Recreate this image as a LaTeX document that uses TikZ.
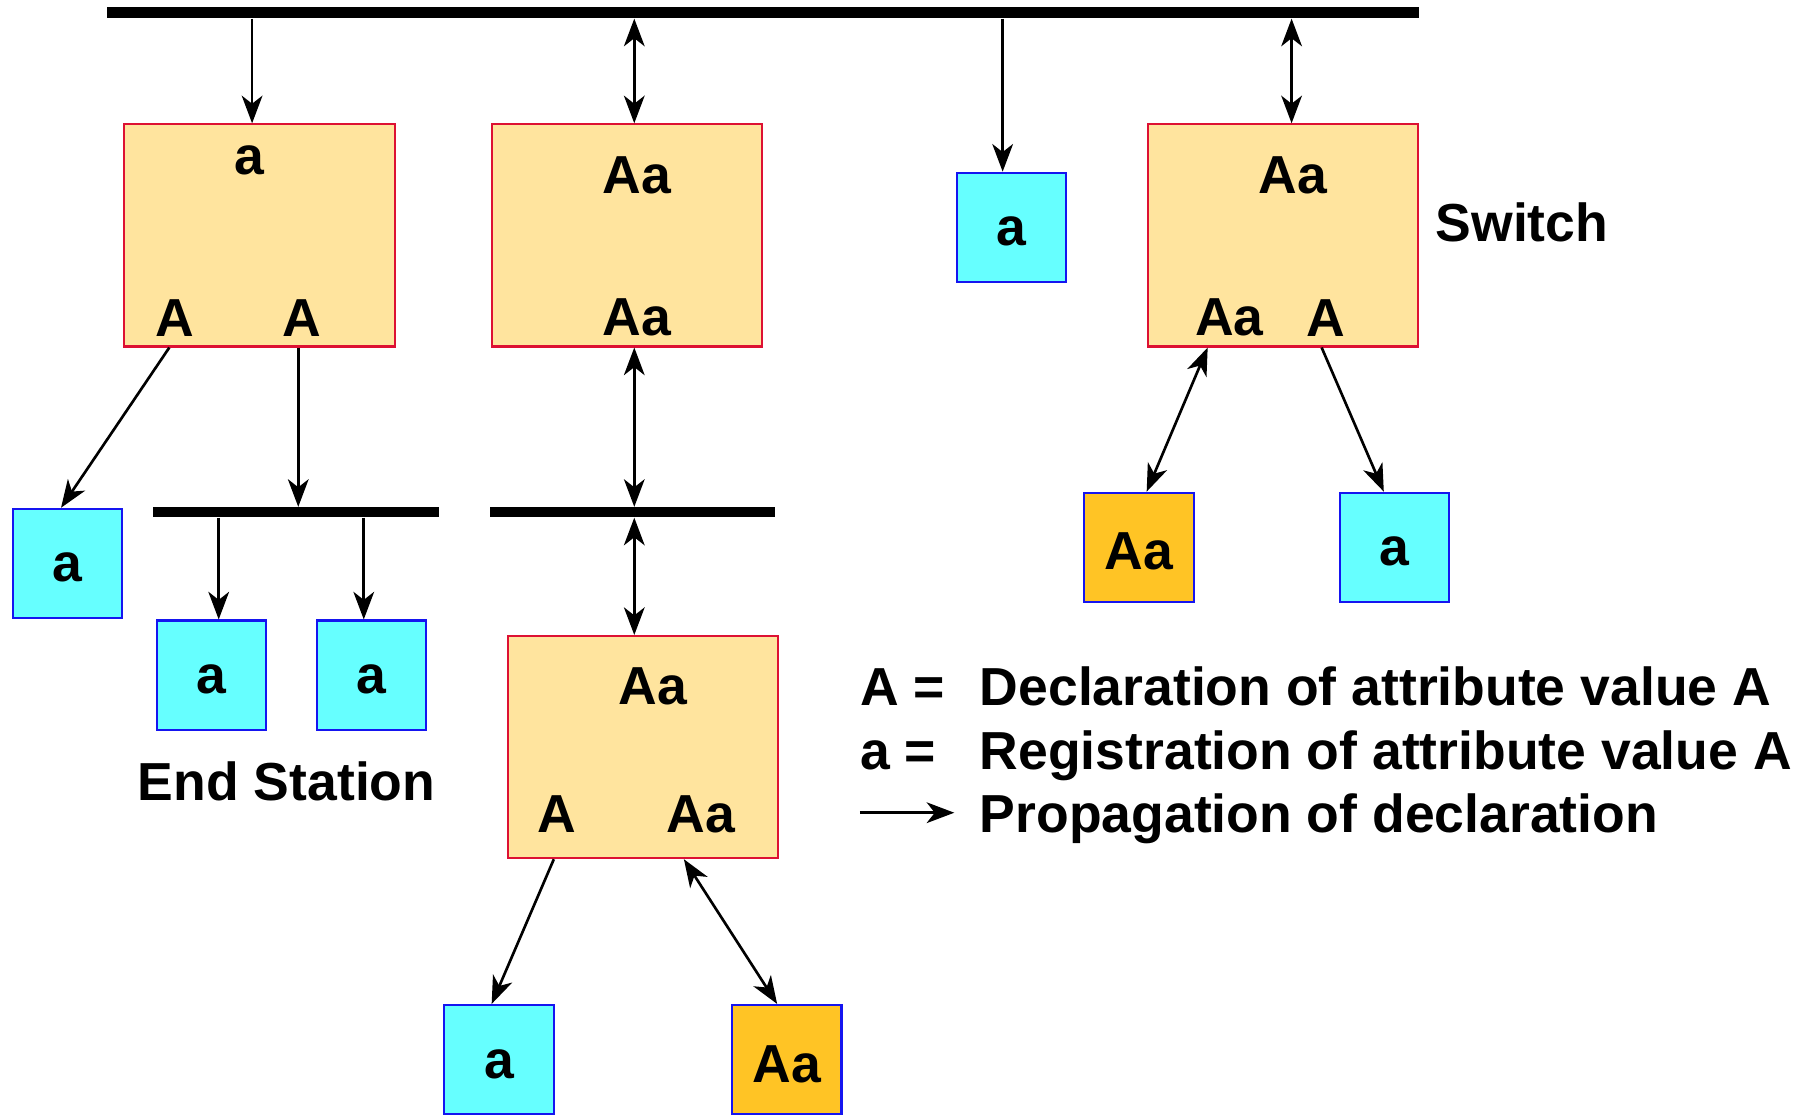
\documentclass[tikz,border=0pt]{standalone}
\usepackage{fontspec}
\setmainfont{Liberation Sans}
\usetikzlibrary{arrows.meta}
\definecolor{swfill}{HTML}{FFE49E}
\definecolor{swline}{HTML}{DD1133}
\definecolor{regfill}{HTML}{66FFFF}
\definecolor{declfill}{HTML}{FFC425}
\definecolor{stline}{HTML}{1515F0}
% station text sits slightly below the box centre
\newcommand{\sttext}[1]{\raisebox{-3.5pt}[\height][0pt]{#1}}
\begin{document}
\begin{tikzpicture}[x=1pt,y=-1pt,
  lbl/.style={font=\fontsize{46.5}{50}\selectfont\bfseries, inner sep=0pt},
  switchbox/.style={draw=swline, fill=swfill, line width=1.8pt,
    minimum width=235pt, minimum height=193pt, inner sep=0pt},
  stationbox/.style={draw=stline, line width=1.8pt, minimum width=95pt,
    minimum height=95pt, inner sep=0pt, lbl},
  regst/.style={stationbox, fill=regfill},
  declst/.style={stationbox, fill=declfill},
  bus/.style={fill=black, inner sep=0pt, minimum height=#1},
  prop/.style={-{Stealth[length=24pt,width=18pt,inset=7pt]}, line width=2.3pt},
  both/.style={{Stealth[length=24pt,width=18pt,inset=7pt]}-{Stealth[length=24pt,width=18pt,inset=7pt]}, line width=2.3pt},
]
\useasboundingbox (0,0) rectangle (1568,969);

% LAN segments
\node[bus=10pt, minimum width=1140pt] (topbus) at (663,11) {};
\node[bus=9pt, minimum width=248pt] (bus2) at (257,445) {};
\node[bus=9pt, minimum width=247pt] (bus3) at (549.5,445) {};

% switches
\node[switchbox] (S1) at (225.5,204.5) {};
\node[switchbox] (S2) at (544.5,204.5) {};
\node[switchbox] (S3) at (1114.5,204.5) {};
\node[switchbox] (S4) at (558.5,649) {};

% port states of the switches
\node[lbl] (S1up) at (217,139) {a};
\node[lbl] (S1l) at (151.5,276) {A};
\node[lbl] (S1r) at (262.5,276) {A};
\node[lbl] (S2up) at (553,152) {Aa};
\node[lbl] (S2dn) at (553,276) {Aa};
\node[lbl] (S3up) at (1123,152) {Aa};
\node[lbl] (S3l) at (1068,276) {Aa};
\node[lbl] (S3r) at (1152,276) {A};
\node[lbl] (S4up) at (567,596) {Aa};
\node[lbl] (S4l) at (484,707) {A};
\node[lbl] (S4r) at (609,707) {Aa};

% end stations
\node[regst] (E1) at (878.5,197.5) {\sttext{a}};
\node[declst] (E2) at (989.5,475.5) {\sttext{Aa}};
\node[regst] (E3) at (1211.5,475.5) {\sttext{a}};
\node[regst] (E4) at (58.5,489.5) {\sttext{a}};
\node[regst] (E5) at (183.5,586.5) {\sttext{a}};
\node[regst] (E6) at (322.5,586.5) {\sttext{a}};
\node[regst] (E7) at (433.5,920.5) {\sttext{a}};
\node[declst] (E8) at (683.5,920.5) {\sttext{Aa}};

\node[lbl, anchor=base west] (swname) at (1247,209.5) {Switch};
\node[lbl, anchor=base] (esname) at (249,695.5) {End Station};

% attachment points
\coordinate (S1in) at ([xshift=-6.5pt]S1.north);
\coordinate (S1outL) at ([xshift=40pt]S1.south west);
\coordinate (S1outR) at ([xshift=152pt]S1.south west);
\coordinate (E4in) at ([xshift=-5.5pt]E4.north);
\coordinate (E5in) at ([xshift=6.5pt]E5.north);
\coordinate (E6in) at ([xshift=-6.5pt]E6.north);
\coordinate (S2in) at ([xshift=6.5pt]S2.north);
\coordinate (S2out) at ([xshift=6.5pt]S2.south);
\coordinate (S4in) at (S4.north -| S2out);
\coordinate (E1in) at ([xshift=-7.5pt]E1.north);
\coordinate (S3in) at ([xshift=7.5pt]S3.north);
\coordinate (S3outL) at ([xshift=53pt]S3.south west);
\coordinate (S3outR) at ([xshift=152pt]S3.south west);
\coordinate (E2in) at ([xshift=55pt]E2.north west);
\coordinate (E3in) at ([xshift=39pt]E3.north west);
\coordinate (S4outL) at ([xshift=41pt]S4.south west);
\coordinate (S4outR) at ([xshift=154pt]S4.south west);
\coordinate (E7in) at ([xshift=42pt]E7.north west);
\coordinate (E8in) at ([xshift=40pt]E8.north west);

% propagation
\draw[prop] (topbus.south -| S1in) -- (S1in);
\draw[prop] (S1outL) -- (E4in);
\draw[prop] (S1outR) -- (bus2.north -| S1outR);
\draw[prop] (bus2.south -| E5in) -- (E5in);
\draw[prop] (bus2.south -| E6in) -- (E6in);
\draw[both] (topbus.south -| S2in) -- (S2in);
\draw[both] (S2out) -- (bus3.north -| S2out);
\draw[both] (bus3.south -| S2out) -- (S4in);
\draw[prop] (S4outL) -- (E7in);
\draw[both] (S4outR) -- (E8in);
\draw[prop] (topbus.south -| E1in) -- (E1in);
\draw[both] (topbus.south -| S3in) -- (S3in);
\draw[both] (S3outL) -- (E2in);
\draw[prop] (S3outR) -- (E3in);

% key
\node[lbl, anchor=base west] (keyA) at (747,612.5) {A =};
\node[lbl, anchor=base west] (keyAtxt) at (851,612.5) {Declaration of attribute value A};
\node[lbl, anchor=base west] (keya) at (747,668.5) {a =};
\node[lbl, anchor=base west] (keyatxt) at (851,668.5) {Registration of attribute value A};
\coordinate (keyS) at (747,706);
\coordinate (keyE) at (829,706);
\draw[prop] (keyS) -- (keyE);
\node[lbl, anchor=base west] (keyptxt) at (851,723.5) {Propagation of declaration};
\end{tikzpicture}
\end{document}
